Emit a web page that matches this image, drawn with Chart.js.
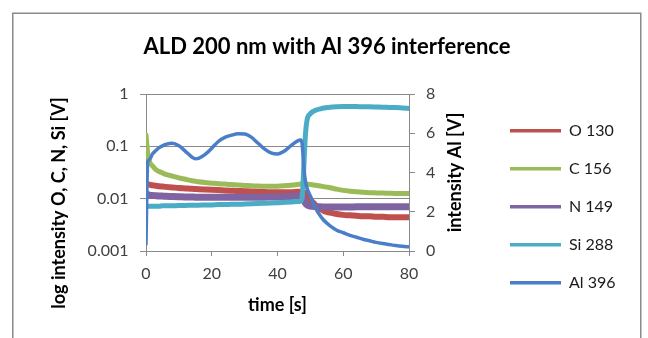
<!DOCTYPE html>
<html><head><meta charset="utf-8">
<script src="https://cdn.jsdelivr.net/npm/chart.js@4/dist/chart.umd.min.js"></script>
<style>html,body{margin:0;padding:0;background:#fff;}#wrap{width:648px;height:338px;position:relative;}</style>
</head><body><div id="wrap"><canvas id="c"></canvas></div>
<script>
const chartTitle = 'ALD 200 nm with Al 396 interference';
const xTitle = 'time [s]';
const yTitle = 'log intensity O, C, N, Si [V]';
const y1Title = 'intensity Al [V]';
const seriesNames = ['O 130', 'C 156', 'N 149', 'Si 288', 'Al 396'];
const seriesColors = ['#C0504D', '#9BBB59', '#8064A2', '#4BACC6', '#4A7EC8'];

const time = [0,0.5,1,2,3,4,5,6,8,10,12,14,15,16,18,20,22,24,26,28,30,32,34,36,38,40,42,44,46,47,47.5,48,48.5,49,50,51,52,53,54,55,56,58,60,62,64,66,68,70,72,74,76,78,80];
const o130 = [0.020,0.019,0.0185,0.018,0.0176,0.0172,0.017,0.0168,0.0164,0.016,0.0157,0.0154,0.0153,0.0152,0.015,0.0148,0.0146,0.0144,0.0142,0.014,0.0139,0.0137,0.0136,0.0134,0.0133,0.0132,0.0132,0.0133,0.0135,0.0136,0.0136,0.0133,0.0125,0.0115,0.0095,0.0082,0.0070,0.0064,0.0059,0.0056,0.0054,0.0051,0.0049,0.0048,0.0047,0.0046,0.0046,0.0045,0.0045,0.0044,0.0044,0.0044,0.0044];
const c156 = [0.165,0.075,0.052,0.042,0.036,0.033,0.031,0.029,0.027,0.025,0.0235,0.022,0.0215,0.021,0.0203,0.0198,0.0193,0.019,0.0186,0.0182,0.0179,0.0176,0.0174,0.0173,0.0172,0.0173,0.0176,0.018,0.0186,0.019,0.0192,0.0192,0.0191,0.019,0.0186,0.0182,0.0178,0.0174,0.017,0.0166,0.0162,0.0152,0.0144,0.0139,0.0135,0.0132,0.013,0.0129,0.0128,0.0127,0.0126,0.0126,0.0125];
const n149 = [0.0125,0.012,0.0117,0.0115,0.0114,0.0113,0.0112,0.0111,0.011,0.0109,0.0108,0.0108,0.0107,0.0107,0.0107,0.0106,0.0106,0.0106,0.0106,0.0106,0.0106,0.0106,0.0107,0.0107,0.0108,0.0108,0.0109,0.011,0.0112,0.0114,0.0112,0.0095,0.0082,0.0076,0.0072,0.0071,0.007,0.007,0.0069,0.0069,0.0069,0.0069,0.0069,0.0069,0.007,0.007,0.007,0.007,0.007,0.007,0.007,0.007,0.007];
const si288 = [0.0072,0.0072,0.0072,0.0072,0.0072,0.0072,0.0073,0.0073,0.0073,0.0074,0.0074,0.0075,0.0075,0.0075,0.0076,0.0076,0.0077,0.0077,0.0078,0.0078,0.0079,0.0080,0.0081,0.0082,0.0083,0.0084,0.0085,0.0086,0.0088,0.0090,0.0105,0.040,0.17,0.32,0.42,0.47,0.50,0.52,0.54,0.55,0.56,0.57,0.575,0.575,0.575,0.57,0.57,0.565,0.56,0.555,0.55,0.54,0.53];
const al396 = [0.35,4.5,4.65,4.95,5.12,5.27,5.36,5.43,5.49,5.36,5.08,4.78,4.70,4.72,4.92,5.24,5.58,5.79,5.90,5.97,5.96,5.80,5.50,5.20,5.00,4.94,5.08,5.36,5.60,5.65,5.45,4.30,3.55,3.20,2.80,2.40,2.05,1.80,1.58,1.42,1.28,1.06,0.93,0.80,0.70,0.60,0.52,0.44,0.38,0.33,0.28,0.24,0.21];

const xTicks = [0, 20, 40, 60, 80];
const logTicks = [1, 0.1, 0.01, 0.001];
const logTickLabels = ['1', '0.1', '0.01', '0.001'];
const alTicks = [0, 2, 4, 6, 8];

Chart.defaults.font.family = 'Lato';
const GRAY = '#8a8a8a';
const TICKC = '#404040';

function pts(arr) { return time.map((t, i) => ({x: t, y: arr[i]})); }
const seriesData = [o130, c156, n149, si288, al396];
const widths = [6, 5, 7, 5, 3.5];

const datasets = seriesData.map((arr, i) => ({
  label: seriesNames[i],
  data: pts(arr),
  borderColor: seriesColors[i],
  backgroundColor: seriesColors[i],
  borderWidth: widths[i],
  pointRadius: 0,
  cubicInterpolationMode: 'monotone',
  borderJoinStyle: 'round',
  borderCapStyle: 'round',
  yAxisID: i === 4 ? 'y1' : 'y',
  order: 5 - i
}));

function patchTitle(scale, dy) {
  if (!scale || scale.__patched) return;
  scale.__patched = true;
  scale.drawTitle = function () {
    const o = this.options.title;
    if (!o.display) return;
    const f = o.font;
    const lh = f.size * 1.2;
    const x = this.left + o.padding.top + lh / 2;
    const y = (this.top + this.bottom) / 2 + dy;
    const ctx = this.ctx;
    ctx.save();
    ctx.translate(x, y);
    ctx.rotate(-Math.PI / 2);
    ctx.font = (f.weight || 'normal') + ' ' + f.size + 'px ' + (f.family || 'Lato');
    ctx.fillStyle = o.color;
    ctx.textAlign = 'center';
    ctx.textBaseline = 'middle';
    ctx.fillText(o.text, 0, 0);
    ctx.restore();
  };
}

const layoutFix = {
  id: 'layoutFix',
  afterLayout(chart) {
    const tb = chart.titleBlock;
    if (tb) { tb.left = 3; tb.right = 651; }
    const lg = chart.legend;
    if (lg) { lg.left = 488; lg.top = 100.7; }
    patchTitle(chart.scales.y, 30.5);
    patchTitle(chart.scales.y1, 0);
  },
  beforeDraw(chart) {
    const ctx = chart.ctx;
    ctx.save();
    ctx.strokeStyle = GRAY;
    ctx.lineWidth = 1.5;
    ctx.strokeRect(12.75, 13.25, 628, 400);
    ctx.restore();
  }
};

new Chart(document.getElementById('c'), {
  type: 'line',
  data: { datasets },
  plugins: [layoutFix],
  options: {
    responsive: true,
    maintainAspectRatio: false,
    animation: false,
    layout: { padding: 0 },
    plugins: {
      title: {
        display: true,
        text: chartTitle,
        color: '#000',
        font: { family: 'Lato', size: 22, weight: 'bold', lineHeight: 1.2 },
        padding: { top: 33.3, bottom: 34.3 }
      },
      legend: {
        display: true,
        position: 'right',
        align: 'start',
        labels: {
          color: '#1a1a1a',
          font: { family: 'Lato', size: 16 },
          boxWidth: 51,
          boxHeight: 3.5,
          padding: 22,
          generateLabels(chart) {
            const items = Chart.defaults.plugins.legend.labels.generateLabels(chart);
            items.sort((a, b) => a.datasetIndex - b.datasetIndex);
            items.forEach(it => { it.fillStyle = it.strokeStyle; it.lineWidth = 0; });
            return items;
          }
        }
      },
      tooltip: { enabled: false }
    },
    scales: {
      x: {
        type: 'linear',
        min: 0, max: 80,
        afterBuildTicks(s) { s.ticks = xTicks.map(v => ({value: v})); },
        afterFit(s) { s.height = 87; },
        ticks: { color: TICKC, font: { size: 16 }, padding: 8.4, maxRotation: 0 },
        grid: { drawOnChartArea: false, drawTicks: true, tickLength: 5, color: GRAY },
        border: { display: true, color: GRAY, width: 1 },
        title: { display: true, text: xTitle, color: '#000', font: { size: 18, weight: 'bold' }, padding: { top: 0, bottom: 22.2 } }
      },
      y: {
        type: 'logarithmic',
        position: 'left',
        min: 0.001, max: 1,
        afterBuildTicks(s) { s.ticks = logTicks.map(v => ({value: v})); },
        afterFit(s) { s.width = 146; },
        ticks: { color: TICKC, font: { size: 16 }, padding: 11.5, callback: (v, i) => logTickLabels[logTicks.indexOf(v)] ?? logTickLabels[i] },
        grid: { drawOnChartArea: true, drawTicks: true, tickLength: 6, color: GRAY },
        border: { display: true, color: GRAY, width: 1 },
        title: { display: true, text: yTitle, color: '#000', font: { family: 'Lato', size: 18, weight: 'bold' }, padding: { top: 48.2, bottom: 0 } }
      },
      y1: {
        type: 'linear',
        position: 'right',
        min: 0, max: 8,
        afterBuildTicks(s) { s.ticks = alTicks.map(v => ({value: v})); },
        afterFit(s) { const lw = (s.chart.legend && s.chart.legend.width) || 120; s.width = 648 - 409 - lw; },
        ticks: { color: TICKC, font: { size: 16 }, padding: 11 },
        grid: { drawOnChartArea: false, drawTicks: true, tickLength: 6, color: GRAY },
        border: { display: true, color: GRAY, width: 1 },
        title: { display: true, text: y1Title, color: '#000', font: { family: 'Lato', size: 18, weight: 'bold' }, padding: { top: 35.7, bottom: 0 } }
      }
    }
  }
});
</script>
</body></html>
